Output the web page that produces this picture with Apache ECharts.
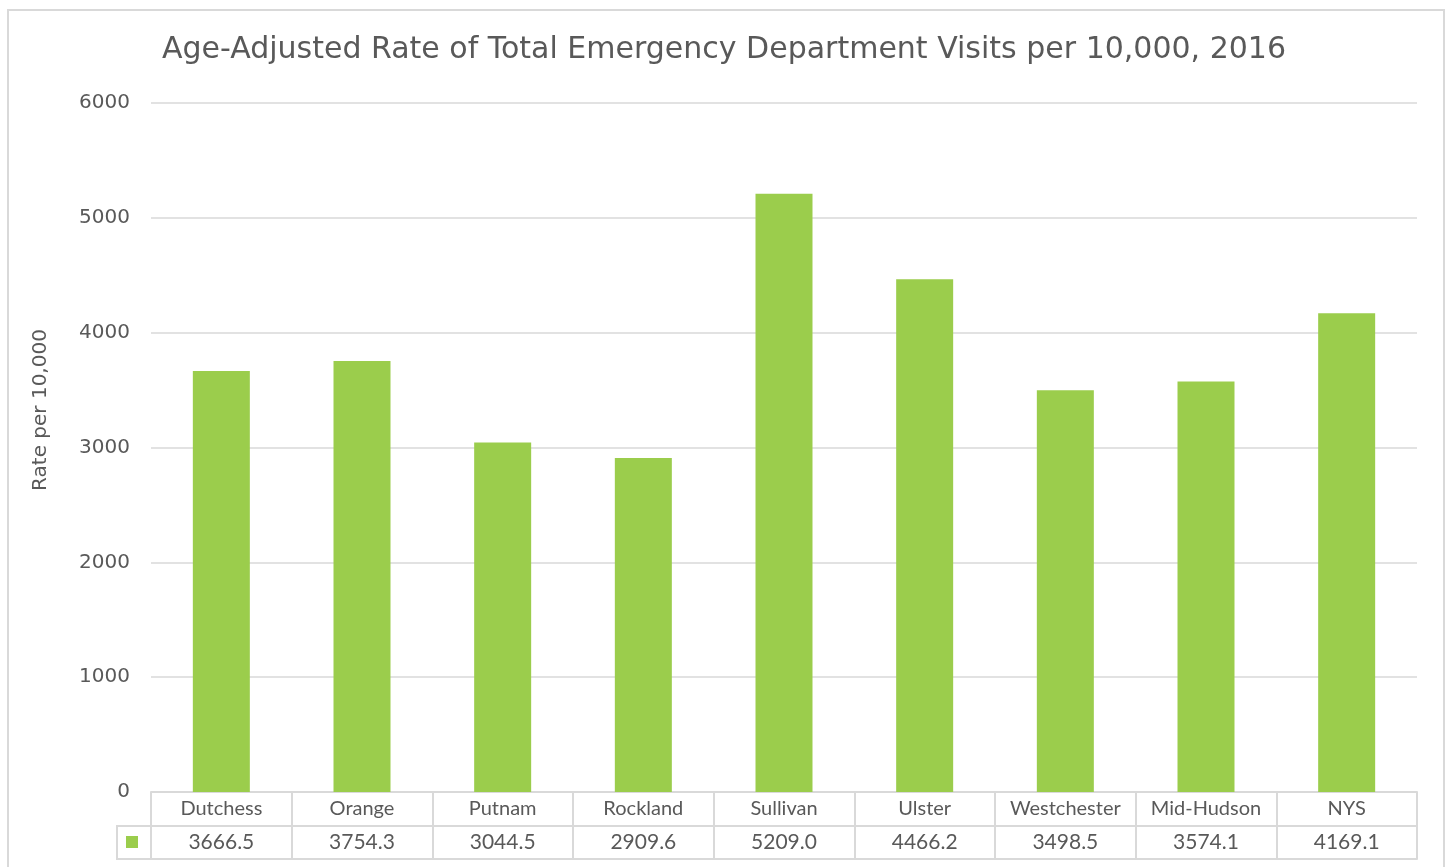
<!DOCTYPE html>
<html>
<head>
<meta charset="utf-8">
<script src="https://cdn.jsdelivr.net/npm/echarts@6/dist/echarts.min.js"></script>
<style>
  html, body { margin: 0; padding: 0; background: #fff; }
  #chart { width: 1448px; height: 867px; }
</style>
</head>
<body>
<div id="chart"></div>
<script>
const categories = ['Dutchess', 'Orange', 'Putnam', 'Rockland', 'Sullivan', 'Ulster', 'Westchester', 'Mid-Hudson', 'NYS']
const rates = [3666.5, 3754.3, 3044.5, 2909.6, 5209.0, 4466.2, 3498.5, 3574.1, 4169.1]
const yTicks = [0, 1000, 2000, 3000, 4000, 5000, 6000]

const GREEN = '#9BCD4C'
const GRID_C = '#D9D9D9'
const TEXT_C = '#595959'
const FONT = 'Lato'

const chart = echarts.init(document.getElementById('chart'))

const option = {
  animation: false,
  title: {
    text: 'Age-Adjusted Rate of Total Emergency Department Visits per 10,000, 2016',
    left: 'center',
    top: 30,
    textStyle: { fontFamily: 'DejaVu Sans', fontSize: 30, fontWeight: 'normal', color: TEXT_C }
  },
  grid: { left: 151, right: 31, top: 103, bottom: 75 },
  xAxis: [
    {
      type: 'category',
      data: categories,
      position: 'bottom',
      axisLine: { show: true, lineStyle: { color: GRID_C, width: 2 } },
      axisTick: { show: true, length: 67, lineStyle: { color: GRID_C, width: 2 } },
      axisLabel: { margin: 7, fontFamily: FONT, fontSize: 20, color: TEXT_C, interval: 0 }
    },
    {
      type: 'category',
      data: rates.map(v => v.toFixed(1)),
      position: 'bottom',
      offset: 34,
      axisLine: { show: true, lineStyle: { color: GRID_C, width: 2 } },
      axisTick: { show: false },
      axisLabel: { margin: 6, fontFamily: FONT, fontSize: 21, color: TEXT_C, interval: 0 }
    },
    {
      type: 'category',
      data: categories,
      position: 'bottom',
      offset: 67,
      axisLine: { show: true, lineStyle: { color: GRID_C, width: 2 } },
      axisTick: { show: false },
      axisLabel: { show: false }
    }
  ],
  yAxis: {
    type: 'value',
    min: yTicks[0],
    max: yTicks[yTicks.length - 1],
    interval: 1000,
    axisLine: { show: false },
    axisTick: { show: false },
    splitLine: { lineStyle: { color: GRID_C, width: 1.5 } },
    axisLabel: {
      margin: 21, fontFamily: 'DejaVu Sans', fontSize: 20, color: TEXT_C,
      formatter: v => String(v)
    }
  },
  series: [
    {
      type: 'bar',
      data: rates,
      barWidth: 57,
      itemStyle: { color: GREEN }
    }
  ],
  graphic: [
    {
      type: 'rect',
      shape: { x: 8, y: 10, width: 1436, height: 900 },
      style: { fill: 'none', stroke: GRID_C, lineWidth: 2 },
      silent: true
    },
    {
      type: 'text',
      x: 41, y: 410,
      rotation: Math.PI / 2,
      style: {
        text: 'Rate per 10,000',
        fontFamily: 'DejaVu Sans', fontSize: 20, fill: TEXT_C,
        align: 'center', verticalAlign: 'middle'
      }
    },
    {
      type: 'rect',
      shape: { x: 117, y: 826, width: 34, height: 33 },
      style: { fill: 'none', stroke: GRID_C, lineWidth: 2 }
    },
    {
      type: 'rect',
      shape: { x: 126, y: 836, width: 12, height: 12 },
      style: { fill: GREEN }
    }
  ]
}

chart.setOption(option)
</script>
</body>
</html>
